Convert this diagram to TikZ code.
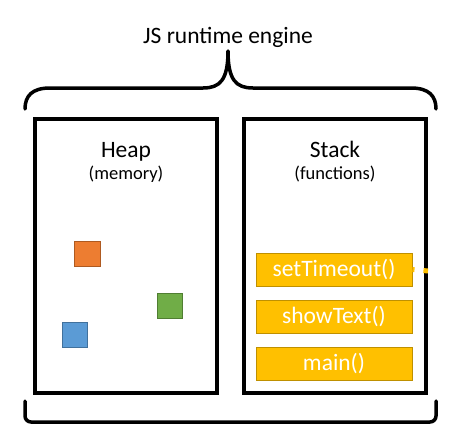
\documentclass[tikz,border=0pt]{standalone}
\usepackage{fontspec}
\setmainfont{Carlito}
\usepackage{xcolor}
\usetikzlibrary{positioning}
\definecolor{stackfill}{HTML}{FFC000}
\definecolor{stackline}{HTML}{BF9000}
\definecolor{orangefill}{HTML}{ED7D31}
\definecolor{orangeline}{HTML}{AE5A21}
\definecolor{greenfill}{HTML}{70AD47}
\definecolor{greenline}{HTML}{507E32}
\definecolor{bluefill}{HTML}{5B9BD5}
\definecolor{blueline}{HTML}{41719C}

\tikzset{
	frame/.style={draw=black, line width=3.5pt},
	brace/.style={draw=black, line width=3.5pt, line cap=round, line join=round},
	call/.style={draw=stackline, fill=stackfill, line width=1pt, minimum width=156pt, minimum height=33pt, inner sep=0pt, text=white, font=\fontsize{23.5}{26}\selectfont},
	title/.style={anchor=base, font=\fontsize{23.5}{26}\selectfont},
	subtitle/.style={anchor=base, font=\fontsize{18.5}{21}\selectfont},
}

\begin{document}
\begin{tikzpicture}[x=1pt, y=-1pt]
		\useasboundingbox (0,0) rectangle (457,431);

		% braces
		\draw[brace] (25,109) .. controls (25,96) and (32,88) .. (50,88) -- (203,88)
			.. controls (220,88) and (228,80) .. (228,51)
			.. controls (228,80) and (236,88) .. (253,88) -- (411,88)
			.. controls (429,88) and (436,96) .. (436,109);
		\draw[brace, rounded corners=6pt] (25,401) -- (25,422) -- (436,422) -- (436,401);
		\node[title] (engine) at (228,43) {JS runtime engine};

		% heap
		\draw[frame] (35,119) rectangle (217,393);
		\node[title] (heap) at (126,157) {Heap};
		\node[subtitle] (memory) at (126,179) {(memory)};
		\draw[orangeline, fill=orangefill, line width=1pt] (74,241) rectangle (100,266);
		\draw[greenline, fill=greenfill, line width=1pt] (157,293) rectangle (182,318);
		\draw[blueline, fill=bluefill, line width=1pt] (62,322) rectangle (87,347);

		% stack
		\draw[frame] (244,119) rectangle (426,393);
		\node[title] (stack) at (335,157) {Stack};
		\node[subtitle] (functions) at (335,179) {(functions)};
		\node[call] (main) at (334,363.5) {main()};
		\node[call, above=13pt of main] (show) {showText()};
		\node[call, above=13pt of show] (timer) {setTimeout()};

		\coordinate (out) at (428,271);
		\draw[stackfill, line width=5pt, dash pattern=on 2pt off 9pt on 6pt off 20pt] (timer.east) -- (out);
	\end{tikzpicture}
\end{document}
